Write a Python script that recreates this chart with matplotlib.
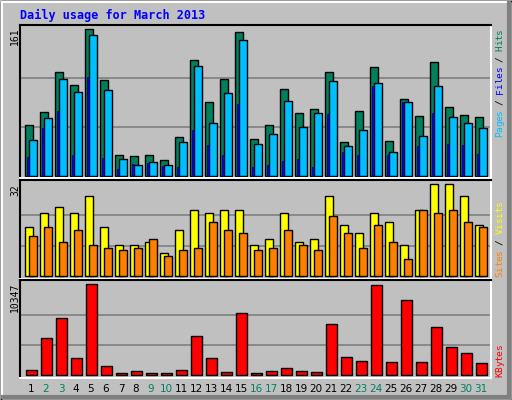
import matplotlib
matplotlib.use('Agg')
import matplotlib.pyplot as plt
import numpy as np

days = list(range(1, 32))
weekend = [2, 3, 9, 10, 16, 17, 23, 24, 30, 31]

hits = [56, 70, 114, 100, 161, 105, 23, 22, 23, 18, 43, 127, 81, 106, 158, 41,
        56, 95, 69, 73, 114, 37, 71, 119, 38, 84, 66, 125, 76, 67, 65]
files = [39, 64, 106, 92, 154, 94, 19, 12, 15, 12, 37, 120, 58, 91, 149, 35,
         46, 82, 54, 69, 104, 33, 50, 102, 26, 81, 44, 99, 65, 58, 53]
pages = [21, 53, 71, 23, 108, 20, 8, 13, 14, 11, 10, 50, 34, 23, 79, 10,
         12, 16, 19, 10, 68, 26, 23, 99, 23, 81, 33, 69, 35, 34, 24]
visits = [17, 22, 24, 22, 28, 17, 11, 11, 12, 8, 16, 23, 22, 23, 23, 11,
          13, 22, 12, 13, 28, 18, 15, 22, 19, 11, 23, 32, 32, 28, 18]
sites = [14, 17, 12, 16, 11, 10, 9, 10, 13, 7, 9, 10, 19, 16, 15, 9,
         10, 16, 11, 9, 21, 15, 10, 18, 12, 6, 23, 22, 23, 19, 17]
kbytes = [569, 4207, 6481, 1933, 10347, 1023, 227, 455, 227, 227, 569, 4434, 1933, 341, 7049, 227,
          455, 796, 455, 341, 5799, 2047, 1592, 10233, 1478, 8527, 1478, 5458, 3184, 2501, 1364]

W, H = 512, 400
fig = plt.figure(figsize=(W / 100, H / 100), dpi=100)
fig.patch.set_facecolor('#c0c0c0')

def px_axes(x0, y0, x1, y1):
    return fig.add_axes([x0 / W, 1 - y1 / H, (x1 - x0) / W, (y1 - y0) / H])

def fig_text(x, y, s, **kw):
    fig.text(x / W, 1 - y / H, s, **kw)

# outer frame
fig.add_artist(plt.Rectangle((0.5 / W, 0.5 / H), 1 - 1 / W, 1 - 1 / H, transform=fig.transFigure,
                             fill=False, edgecolor='black', lw=1))
fig.add_artist(plt.Line2D([2 / W, 2 / W], [4 / H, 1 - 2 / H], transform=fig.transFigure, color='white', lw=1.5))
fig.add_artist(plt.Line2D([2 / W, 1 - 4 / W], [1 - 2 / H, 1 - 2 / H], transform=fig.transFigure, color='white', lw=1.5))
fig.add_artist(plt.Line2D([1 - 3 / W, 1 - 3 / W], [3 / H, 1 - 3 / H], transform=fig.transFigure, color='#808080', lw=3))
fig.add_artist(plt.Line2D([3 / W, 1 - 3 / W], [3 / H, 3 / H], transform=fig.transFigure, color='#808080', lw=3))

x = np.array(days)
xlim = (1 - 11 / 15, 31 + 10 / 15)

def style(ax, ymax, lo, hi):
    ax.set_facecolor('#c0c0c0')
    ax.set_xlim(*xlim)
    ax.set_ylim(lo, hi)
    for g in (ymax / 3, ymax * 2 / 3):
        ax.axhline(g, color='#808080', lw=1.2, zorder=0)
    ax.set_xticks([])
    ax.set_yticks([])
    ax.spines['top'].set_color('black')
    ax.spines['left'].set_color('black')
    ax.spines['bottom'].set_color('white')
    ax.spines['right'].set_color('white')
    for s in ax.spines.values():
        s.set_linewidth(1.5)

bk = dict(edgecolor='black', linewidth=1, align='edge')

ax1 = px_axes(20, 25, 491, 178)
style(ax1, 161, -2.2, 165.4)
ax1.bar(x - 0.4, hits, width=0.53, color='#00805c', **bk)
ax1.bar(x - 0.13, files, width=0.53, color='#00bfff', **bk)
ax1.bar(x - 0.27, pages, width=0.13, color='#0000ff', edgecolor='#000040', linewidth=0.5, align='edge')

ax2 = px_axes(20, 180, 491, 279)
style(ax2, 32, -0.94, 33.5)
ax2.bar(x - 0.4, visits, width=0.53, color='#ffff00', **bk)
ax2.bar(x - 0.13, sites, width=0.53, color='#ff8000', **bk)

ax3 = px_axes(20, 280, 491, 378)
style(ax3, 10347, -307, 10836)
ax3.bar(x - 0.33, kbytes, width=0.73, color='#ff0000', **bk)

fig_text(20, 15, 'Daily usage for March 2013', color='#0000ff', family='DejaVu Sans Mono',
         weight='bold', fontsize=8.5, va='center')
fig_text(15, 36, '161', rotation=90, fontsize=7, va='center', ha='center', family='DejaVu Sans Mono')
fig_text(15, 190, '32', rotation=90, fontsize=7, va='center', ha='center', family='DejaVu Sans Mono')
fig_text(15, 297, '10347', rotation=90, fontsize=7, va='center', ha='center', family='DejaVu Sans Mono')

for d in days:
    c = '#008060' if d in weekend else 'black'
    fig_text(31 + (d - 1) * 15, 389, str(d), color=c, fontsize=7.5, ha='center', va='center')

def side_label(parts, ybottom, step=5.4):
    y = ybottom
    for s, c in parts:
        for ch in s:
            if ch != ' ':
                fig_text(500, y - step / 2, ch, color=c, rotation=90, fontsize=6.8,
                         family='DejaVu Sans Mono', ha='center', va='center')
            y -= step

side_label([('Pages', '#00bfff'), (' / ', 'black'), ('Files', '#0000ff'),
            (' / ', 'black'), ('Hits', '#00805c')], 137)
side_label([('Sites', '#ff8000'), (' / ', 'black'), ('Visits', '#ffff00')], 277)
side_label([('KBytes', '#ff0000')], 377)

fig.savefig('out.png', dpi=100, facecolor=fig.get_facecolor())
